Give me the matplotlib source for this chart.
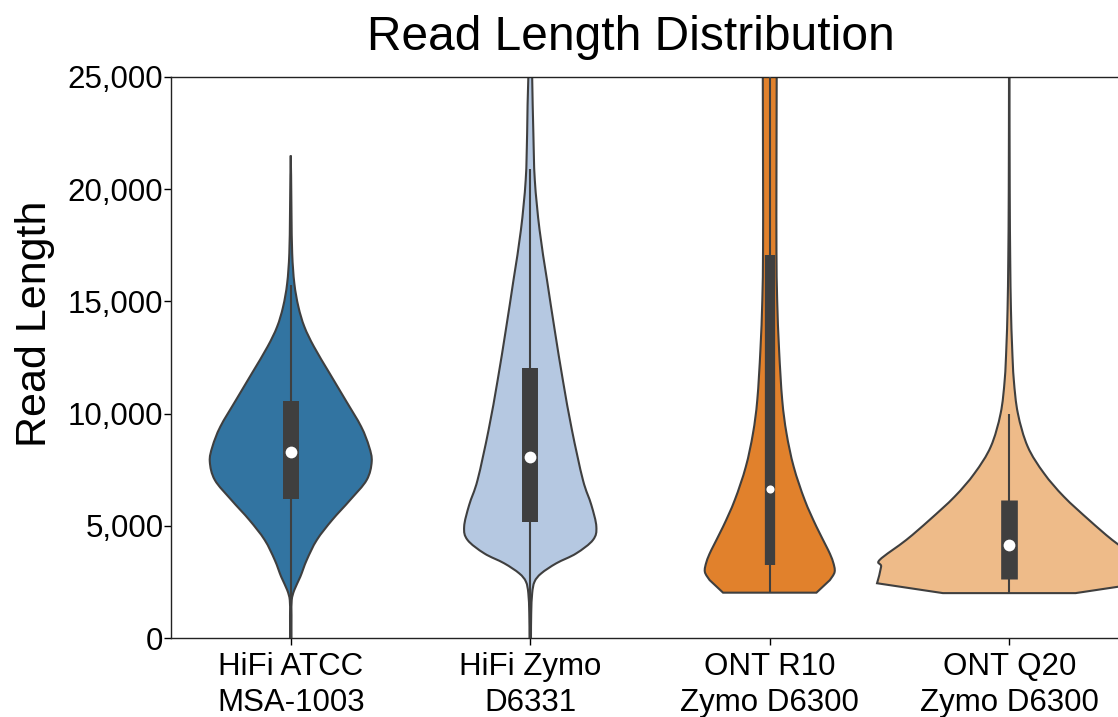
import numpy as np
import matplotlib
matplotlib.use("Agg")
import matplotlib.pyplot as plt
from matplotlib.path import Path
from matplotlib.patches import PathPatch
from matplotlib.ticker import FuncFormatter

plt.rcParams['font.family'] = ['Liberation Sans', 'DejaVu Sans']

samples = ["HiFi ATCC\nMSA-1003", "HiFi Zymo\nD6331",
           "ONT R10\nZymo D6300", "ONT Q20\nZymo D6300"]
colors = ["#3274a1", "#b5c8e1", "#e1812c", "#eebb89"]

# density outlines: read length (bp) and violin half width (category units)
atcc_len = [-300, 0, 1000, 1690, 2140, 2730, 3480, 4370, 5260, 6150, 7040, 7860, 8530, 9420,
            10600, 11800, 12980, 13870, 14760, 15800, 17140, 19000, 21500]
atcc_hw = [0.003, 0.003, 0.003, 0.004, 0.015, 0.040, 0.067, 0.109, 0.173, 0.248, 0.317, 0.338, 0.327, 0.294,
           0.229, 0.162, 0.097, 0.057, 0.032, 0.015, 0.006, 0.003, 0.0]
zymo_len = [-300, 0, 1100, 1990, 2510, 2880, 3330, 3770, 4370, 4960, 5930, 7040, 9270,
            11500, 13730, 15950, 18180, 20410, 22500, 25000, 27000]
zymo_hw = [0.003, 0.003, 0.004, 0.008, 0.018, 0.046, 0.109, 0.192, 0.262, 0.276, 0.255, 0.220, 0.174,
           0.136, 0.102, 0.070, 0.039, 0.019, 0.013, 0.008, 0.006]
r10_len = [2020, 2580, 2950, 3400, 3920, 4960, 6150, 7630, 9120, 10610, 12830, 15060, 17290,
           20650, 25000, 27000]
r10_hw = [0.195, 0.251, 0.271, 0.264, 0.244, 0.195, 0.146, 0.100, 0.070, 0.052, 0.039, 0.031, 0.028,
          0.028, 0.029, 0.029]
q20_len = [2000, 2440, 3180, 3480, 4370, 5260, 6300, 7340, 8530, 10010, 11500, 12970, 14670,
           16900, 20000, 25000, 27000]
q20_hw = [0.277, 0.552, 0.535, 0.541, 0.430, 0.333, 0.228, 0.145, 0.077, 0.036, 0.019, 0.012, 0.007,
          0.004, 0.002, 0.001, 0.001]

profiles = [(atcc_len, atcc_hw), (zymo_len, zymo_hw), (r10_len, r10_hw), (q20_len, q20_hw)]
flat_bottom = [False, False, True, True]

# inner box: quartiles, median and whisker ends
q1 = [6180, 5180, 3250, 2630]
median = [8270, 8050, 6630, 4140]
q3 = [10580, 12020, 17070, 6150]
whisker_lo = [0, 0, 2020, 2000]
whisker_hi = [15730, 20900, 27000, 10000]
box_lw = [11.5, 11.5, 7.4, 12.0]
dot_size = [72, 72, 34, 72]

edge = "#3f3f3f"


def catmull(pts, closed):
    # catmull-rom through the outline points, as cubic bezier segments
    if closed:
        ext = np.vstack([pts[-1], pts, pts[0], pts[1]])
        n = len(pts)
    else:
        ext = np.vstack([pts[0], pts, pts[-1]])
        n = len(pts) - 1
    verts, codes = [], []
    for i in range(1, n + 1):
        p0, p1, p2, p3 = ext[i - 1], ext[i], ext[i + 1], ext[i + 2]
        verts += [p1 + (p2 - p0) / 6.0, p2 - (p3 - p1) / 6.0, p2]
        codes += [Path.CURVE4] * 3
    return ext[1], verts, codes


def violin_path(pos, lens, hw, flat):
    lens = np.asarray(lens, float)
    hw = np.asarray(hw, float)
    right = np.column_stack([pos + hw, lens])
    left = np.column_stack([pos - hw, lens])[::-1]
    if not flat:
        pts = np.vstack([right, left[1:]])
        start, verts, codes = catmull(pts, closed=True)
        verts = [start] + verts + [start]
        codes = [Path.MOVETO] + codes + [Path.CLOSEPOLY]
        return Path(verts, codes)
    # cut at the shortest read: straight bottom and chamfered corners
    pts = np.vstack([right[1:], left[:-1]])
    start, verts, codes = catmull(pts, closed=False)
    verts = [right[0], start] + verts + [left[-1], right[0]]
    codes = [Path.MOVETO, Path.LINETO] + codes + [Path.LINETO, Path.CLOSEPOLY]
    return Path(verts, codes)


fig = plt.figure(figsize=(11.18, 7.17), dpi=100)
ax = fig.add_axes([171 / 1118, 79 / 717, 958 / 1118, 561 / 717])

for i, (lens, hw) in enumerate(profiles):
    ax.add_patch(PathPatch(violin_path(i, lens, hw, flat_bottom[i]), facecolor=colors[i],
                           edgecolor=edge, linewidth=1.5, zorder=2))
    ax.vlines(i, whisker_lo[i], whisker_hi[i], color=edge, linewidth=1.5, zorder=3)
    ax.vlines(i, q1[i], q3[i], color=edge, linewidth=box_lw[i], zorder=3)
    ax.scatter(i, median[i], s=dot_size[i], color="white", zorder=4, linewidths=0)

ax.set_xlim(-0.5, 3.5)
ax.set_ylim(0, 25000)
ax.set_xticks(range(4))
ax.set_xticklabels(samples, fontsize=22.5, linespacing=1.25)
ax.set_yticks(range(0, 25001, 5000))
ax.yaxis.set_major_formatter(FuncFormatter(lambda v, p: f"{int(v):,}"))
ax.tick_params(axis="y", labelsize=22.5, length=5, width=1, pad=0.5)
ax.tick_params(axis="x", length=5, width=1, pad=5)
ax.spines["right"].set_visible(False)
for s in ["left", "bottom", "top"]:
    ax.spines[s].set_linewidth(1.0)
    ax.spines[s].set_color("#222222")

fig.text(631 / 1118, 1 - 50 / 717, "Read Length Distribution", fontsize=34.5,
         ha="center", va="baseline")
fig.text(35 / 1118, 1 - 324 / 717, "Read Length", fontsize=31, rotation=90,
         ha="center", va="center")

fig.savefig("out.png", dpi=100)
